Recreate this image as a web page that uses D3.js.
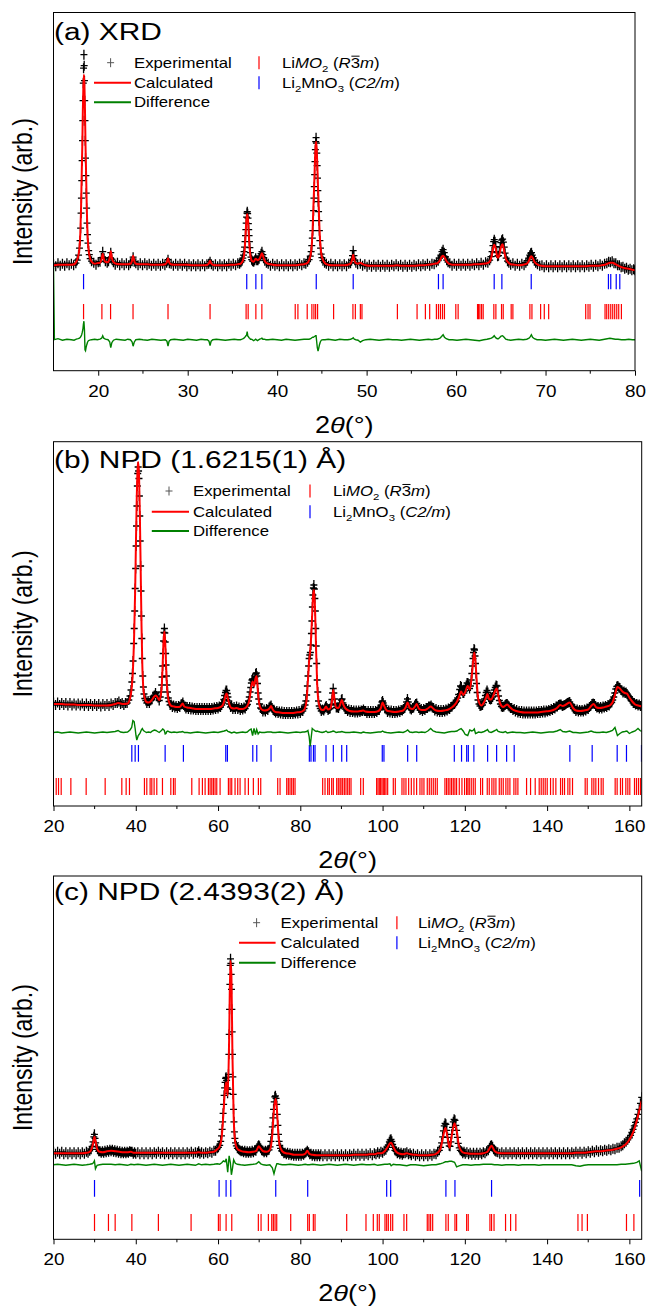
<!DOCTYPE html>
<html>
<head>
<meta charset="utf-8">
<script src="https://cdn.jsdelivr.net/npm/d3@7/dist/d3.min.js"></script>
<style>
html,body{margin:0;padding:0;background:#fff;}
svg{display:block;}
</style>
</head>
<body>
<svg id="figure" width="647" height="1307"></svg>
<script>
// ===================== (a) XRD =====================
// observed points [2theta, intensity]
const xrdObserved = [
[15.0,113],[15.25,109],[15.5,115],[15.75,110],[16.0,114],[16.25,110],[16.5,115],[16.75,111],[17.0,114],[17.25,111],
[17.5,115],[17.65,121],[17.8,131],[17.9,145],[17.97,160],[18.03,185],[18.08,215],[18.12,245],[18.16,280],[18.2,320],
[18.24,360],[18.27,400],[18.3,440],[18.33,475],[18.36,505],[18.4,532],[18.43,510],[18.46,480],[18.49,440],[18.52,400],
[18.55,360],[18.58,325],[18.62,290],[18.66,255],[18.7,225],[18.75,195],[18.8,172],[18.86,155],[18.93,140],[19.0,132],
[19.1,124],[19.25,119],[19.5,116],[19.75,112],[20.0,117],[20.2,118],[20.35,126],[20.5,138],[20.65,125],[20.8,119],
[21.0,116],[21.15,119],[21.28,126],[21.4,136],[21.52,123],[21.7,117],[21.9,112],[22.15,116],[22.4,111],[22.65,115],
[22.9,111],[23.15,115],[23.4,111],[23.6,115],[23.78,119],[23.9,127],[24.02,118],[24.2,115],[24.45,111],[24.7,115],
[24.95,111],[25.2,115],[25.45,111],[25.7,114],[25.95,110],[26.2,114],[26.45,110],[26.7,114],[26.95,110],[27.2,114],
[27.45,111],[27.65,116],[27.8,122],[27.95,115],[28.15,114],[28.4,110],[28.65,114],[28.9,110],[29.15,114],[29.4,110],
[29.65,114],[29.9,109],[30.15,113],[30.4,109],[30.65,113],[30.9,109],[31.15,113],[31.4,109],[31.65,113],[31.9,109],
[32.15,113],[32.35,114],[32.5,118],[32.65,113],[32.85,110],[33.1,113],[33.35,109],[33.6,113],[33.85,109],[34.1,113],
[34.35,109],[34.6,114],[34.85,110],[35.1,114],[35.35,111],[35.6,115],[35.8,114],[35.95,117],[36.07,120],[36.16,125],
[36.24,131],[36.3,138],[36.36,147],[36.41,158],[36.46,170],[36.5,182],[36.54,195],[36.58,207],[36.62,215],[36.66,218],
[36.7,214],[36.74,205],[36.78,194],[36.82,182],[36.86,170],[36.9,158],[36.95,146],[37.0,136],[37.07,127],[37.15,122],
[37.25,119],[37.38,118],[37.5,121],[37.6,125],[37.72,121],[37.85,121],[37.98,124],[38.1,129],[38.2,134],[38.3,138],
[38.4,132],[38.5,126],[38.62,120],[38.8,116],[39.0,114],[39.25,110],[39.5,114],[39.75,110],[40.0,113],[40.25,109],
[40.5,113],[40.75,109],[41.0,113],[41.25,109],[41.5,113],[41.75,109],[42.0,113],[42.25,110],[42.5,114],[42.75,111],
[43.0,115],[43.2,114],[43.4,118],[43.57,122],[43.7,129],[43.8,138],[43.87,150],[43.93,165],[43.98,180],[44.03,200],
[44.07,220],[44.11,245],[44.15,268],[44.19,292],[44.23,318],[44.27,342],[44.31,358],[44.35,366],[44.39,355],[44.43,335],
[44.47,310],[44.51,285],[44.55,260],[44.59,238],[44.63,218],[44.67,200],[44.72,180],[44.78,160],[44.85,145],[44.92,133],
[45.0,126],[45.12,120],[45.3,116],[45.5,114],[45.75,110],[46.0,114],[46.25,109],[46.5,113],[46.75,109],[47.0,113],
[47.25,109],[47.5,113],[47.75,109],[48.0,114],[48.2,115],[48.32,120],[48.42,130],[48.5,140],[48.58,130],[48.68,121],
[48.8,116],[49.0,113],[49.3,114],[49.55,110],[49.8,113],[50.05,108],[50.3,112],[50.55,108],[50.8,112],[51.05,108],
[51.3,112],[51.55,108],[51.8,112],[52.05,108],[52.3,112],[52.55,108],[52.8,112],[53.05,109],[53.3,113],[53.55,109],
[53.8,112],[54.05,108],[54.3,112],[54.55,108],[54.8,112],[55.05,108],[55.3,112],[55.55,109],[55.8,113],[56.05,109],
[56.3,113],[56.55,110],[56.8,114],[57.05,110],[57.3,114],[57.55,113],[57.8,117],[58.0,120],[58.15,125],[58.3,131],
[58.42,138],[58.55,142],[58.68,136],[58.8,128],[58.95,121],[59.1,117],[59.3,115],[59.55,110],[59.8,114],[60.05,110],
[60.3,114],[60.55,110],[60.8,114],[61.05,110],[61.3,114],[61.55,110],[61.8,114],[62.05,111],[62.3,115],[62.55,111],
[62.8,116],[63.05,112],[63.3,117],[63.55,116],[63.75,121],[63.9,128],[64.02,138],[64.12,150],[64.2,158],[64.27,162],
[64.35,158],[64.44,148],[64.54,136],[64.64,129],[64.74,130],[64.84,137],[64.93,147],[65.02,156],[65.1,161],[65.2,163],
[65.29,157],[65.38,147],[65.48,135],[65.6,125],[65.75,119],[65.9,116],[66.1,112],[66.35,115],[66.6,110],[66.85,114],
[67.1,110],[67.35,114],[67.6,111],[67.8,116],[67.98,120],[68.12,125],[68.24,131],[68.34,135],[68.43,136],[68.52,131],
[68.62,126],[68.75,120],[68.9,116],[69.1,113],[69.35,110],[69.6,111],[69.85,107],[70.1,111],[70.35,107],[70.6,111],
[70.85,107],[71.1,111],[71.35,107],[71.6,111],[71.85,107],[72.1,111],[72.35,107],[72.6,111],[72.85,107],[73.1,111],
[73.35,107],[73.6,111],[73.85,107],[74.1,111],[74.35,107],[74.6,111],[74.85,108],[75.1,112],[75.35,108],[75.6,112],
[75.85,109],[76.1,113],[76.35,110],[76.6,114],[76.85,115],[77.05,118],[77.25,117],[77.45,119],[77.65,115],[77.85,115],
[78.05,111],[78.25,111],[78.45,107],[78.65,108],[78.85,104],[79.05,106],[79.25,102],[79.45,104],[79.65,101],[79.85,103],
[80.0,101]];
// calculated profile and difference on their own 2theta grid
const xrdTwoTheta = [
15.0,15.1,15.5,16.0,16.5,17.0,17.3,17.55,17.75,17.9,
18.0,18.08,18.15,18.22,18.28,18.34,18.4,18.46,18.52,18.58,
18.65,18.72,18.8,18.9,19.05,19.25,19.6,19.9,20.2,20.38,
20.5,20.62,20.8,21.1,21.28,21.4,21.52,21.7,22.0,22.5,
23.0,23.3,23.6,23.78,23.9,24.02,24.2,24.6,25.0,25.5,
26.0,26.5,27.0,27.5,27.68,27.8,27.92,28.1,28.5,29.0,
29.5,30.0,30.5,31.0,31.5,31.9,32.2,32.38,32.5,32.62,
32.8,33.2,33.7,34.2,34.7,35.2,35.6,35.9,36.07,36.2,
36.29,36.37,36.45,36.51,36.58,36.65,36.72,36.79,36.85,36.93,
37.01,37.1,37.22,37.38,37.6,37.8,38.05,38.2,38.3,38.4,
38.55,38.75,39.0,39.5,40.0,40.5,41.0,41.5,42.0,42.5,
43.0,43.35,43.57,43.75,43.87,43.97,44.05,44.13,44.21,44.28,
44.35,44.42,44.49,44.57,44.65,44.73,44.83,44.95,45.13,45.35,
45.7,46.1,46.5,47.0,47.5,47.9,48.2,48.38,48.5,48.62,
48.8,49.05,49.3,49.55,49.9,50.4,50.9,51.4,51.9,52.4,
52.9,53.4,53.9,54.4,54.9,55.4,55.9,56.4,56.9,57.3,
57.6,57.9,58.2,58.4,58.55,58.7,58.9,59.2,59.6,60.1,
60.6,61.1,61.6,62.1,62.6,63.1,63.45,63.7,63.95,64.12,
64.26,64.42,64.6,64.72,64.85,65.03,65.2,65.37,65.55,65.8,
66.1,66.5,67.0,67.5,67.9,68.15,68.3,68.42,68.55,68.75,
69.05,69.5,70.0,70.5,71.0,71.5,72.0,72.5,73.0,73.5,
74.0,74.5,75.0,75.5,76.0,76.3,76.6,76.9,77.2,77.5,
77.8,78.1,78.5,78.9,79.3,79.7,80.0];
const xrdCalc = [
110,111,112,112,112,112,113,118,128,145,
175,225,290,350,420,470,492,470,420,350,
290,225,175,145,128,118,114,115,116,124,
134,124,118,117,126,139,126,117,114,113,
113,113,114,120,130,120,114,113,113,113,
112,112,112,113,117,125,117,113,112,112,
112,112,111,111,111,111,112,115,120,115,
112,111,111,111,112,112,113,114,117,122,
130,143,166,187,205,213,205,187,166,143,
130,122,119,118,124,121,124,131,135,131,
122,116,114,112,111,111,111,111,111,112,
113,115,121,132,152,185,227,266,311,344,
358,344,311,266,227,185,152,132,121,115,
112,111,111,111,111,112,114,122,132,122,
115,114,116,113,111,110,110,110,110,110,
110,111,110,110,110,110,111,111,112,113,
114,115,121,128,130,127,120,114,112,112,
112,112,112,113,113,114,115,117,127,143,
152,145,128,126,133,148,153,140,125,117,
113,112,111,112,114,120,127,129,126,118,
113,110,109,109,109,109,109,109,109,109,
109,109,110,110,110,111,112,114,116,116,
113,110,107,105,104,102,101];
const xrdDiff = [
146,0,2,-1,1,0,-1,1,2,3,
5,7,10,15,20,30,37,20,-20,-22,
-15,-10,-5,-2,-1,0,1,0,1,3,
8,3,1,0,-4,-16,-6,-1,1,0,
-1,1,0,-4,-13,-5,0,1,0,-1,
1,0,-1,0,-3,-13,-3,0,1,0,
-1,1,0,-1,1,0,0,-3,-12,-3,
0,1,0,-1,0,1,0,0,1,2,
3,5,6,8,9,16,7,6,4,3,
1,1,0,-2,1,-2,1,2,3,1,
1,0,0,1,0,-1,1,0,-1,0,
1,1,1,2,4,5,5,6,7,8,
8,-4,-16,-23,-17,-10,-4,-1,0,0,
1,0,-1,1,0,0,1,2,4,1,
0,-1,-5,-2,0,1,0,-1,0,1,
0,0,-1,0,1,0,-1,0,1,0,
1,1,3,7,10,5,2,0,0,-1,
0,1,0,-1,-2,0,1,2,3,5,
8,4,2,2,4,7,8,5,1,0,
-1,0,1,0,1,3,6,10,5,2,
0,0,-1,0,1,0,-1,0,1,0,
-1,0,1,0,-1,0,1,2,3,2,
1,1,0,0,1,0,0];
const xrdReflLiMO2 = [18.36,20.41,21.38,23.89,27.80,32.50,36.53,36.76,37.62,38.29,42.02,42.32,43.36,43.88,44.11,44.30,44.52,46.31,48.47,48.74,49.30,49.48,53.44,55.64,56.57,57.05,57.80,58.03,58.25,58.48,58.70,59.97,60.23,62.40,62.51,62.66,62.85,63.03,64.22,64.45,65.08,65.27,66.16,66.35,68.25,68.48,69.45,69.86,70.35,74.49,74.75,74.97,76.65,76.84,77.06,77.29,77.51,77.73,77.96,78.18,78.48];
const xrdReflLi2MnO3 = [18.36,36.60,37.62,38.29,44.37,48.50,58.03,58.55,64.26,65.12,68.40,77.03,77.29,77.90,78.30];
const xrdTickValues = [20,30,40,50,60,70,80];
const xrdMinorTicks = [25,35,45,55,65,75];

// ===================== (b) NPD 1.6215(1) Å =====================
const npd1Observed = [
[20.0,107],[20.5,102],[21.0,107],[21.5,102],[22.0,106],[22.5,102],[23.0,106],[23.5,101],[24.0,106],[24.5,101],
[25.0,105],[25.5,101],[26.0,105],[26.5,101],[27.0,105],[27.5,100],[28.0,105],[28.5,100],[29.0,104],[29.5,100],
[30.0,104],[30.5,100],[31.0,104],[31.5,99],[32.0,104],[32.5,100],[33.0,104],[33.5,100],[34.0,105],[34.5,102],
[35.0,106],[35.5,106],[35.9,109],[36.3,104],[36.7,106],[37.1,102],[37.5,106],[37.9,106],[38.3,112],[38.6,120],
[38.85,132],[39.05,148],[39.2,165],[39.35,190],[39.5,225],[39.62,255],[39.74,290],[39.86,335],[39.97,375],[40.08,420],
[40.18,460],[40.28,500],[40.38,540],[40.48,565],[40.58,578],[40.68,570],[40.78,555],[40.88,520],[40.98,480],[41.08,430],
[41.18,380],[41.28,330],[41.38,280],[41.48,235],[41.58,195],[41.7,160],[41.85,138],[42.0,124],[42.2,115],[42.45,111],
[42.7,106],[43.0,110],[43.3,106],[43.6,111],[43.9,113],[44.2,119],[44.5,121],[44.8,126],[45.1,120],[45.4,117],
[45.7,111],[45.95,118],[46.15,128],[46.3,142],[46.42,158],[46.54,180],[46.65,205],[46.76,230],[46.86,247],[46.96,255],
[47.06,246],[47.16,228],[47.26,205],[47.36,182],[47.46,160],[47.58,142],[47.72,128],[47.9,116],[48.1,109],[48.35,102],
[48.6,103],[48.9,98],[49.2,101],[49.5,97],[49.8,100],[50.1,96],[50.4,100],[50.7,98],[51.0,103],[51.25,104],
[51.45,107],[51.65,102],[51.9,99],[52.2,95],[52.5,98],[52.8,94],[53.1,98],[53.4,93],[53.7,97],[54.0,93],
[54.3,96],[54.6,92],[54.9,96],[55.2,92],[55.5,96],[55.8,92],[56.1,96],[56.4,92],[56.7,96],[57.0,92],
[57.3,96],[57.6,92],[57.9,96],[58.2,92],[58.5,96],[58.8,93],[59.1,97],[59.4,94],[59.7,98],[60.0,95],
[60.3,99],[60.6,98],[60.9,102],[61.15,106],[61.4,113],[61.6,121],[61.8,127],[61.95,131],[62.1,131],[62.25,125],
[62.4,118],[62.6,110],[62.8,104],[63.05,98],[63.3,99],[63.6,94],[63.9,98],[64.2,94],[64.5,99],[64.8,94],
[65.1,97],[65.4,92],[65.7,96],[66.0,93],[66.3,97],[66.6,95],[66.9,100],[67.15,103],[67.4,110],[67.6,118],
[67.8,128],[67.95,137],[68.1,146],[68.25,152],[68.4,154],[68.55,150],[68.7,146],[68.85,150],[69.0,158],[69.15,164],
[69.3,166],[69.45,160],[69.6,145],[69.75,126],[69.9,114],[70.1,104],[70.35,96],[70.6,94],[70.9,89],[71.2,93],
[71.5,89],[71.8,94],[72.1,92],[72.4,97],[72.65,99],[72.9,101],[73.15,96],[73.4,92],[73.7,90],[74.0,87],
[74.3,90],[74.6,86],[74.9,89],[75.2,85],[75.5,89],[75.8,84],[76.1,88],[76.4,84],[76.7,88],[77.0,84],
[77.3,88],[77.6,84],[77.9,88],[78.2,84],[78.5,88],[78.8,85],[79.1,89],[79.4,85],[79.7,90],[80.0,86],
[80.3,91],[80.6,90],[80.9,95],[81.15,102],[81.35,110],[81.55,122],[81.72,140],[81.88,160],[82.02,180],[82.15,195],
[82.3,202],[82.45,207],[82.58,222],[82.7,245],[82.82,270],[82.94,298],[83.06,322],[83.18,336],[83.3,342],[83.42,334],
[83.54,315],[83.65,290],[83.76,255],[83.87,220],[83.98,185],[84.1,152],[84.25,128],[84.42,110],[84.6,100],[84.85,95],
[85.1,90],[85.4,93],[85.7,91],[85.95,95],[86.15,98],[86.3,100],[86.5,96],[86.75,92],[87.0,94],[87.25,95],
[87.5,102],[87.7,113],[87.85,126],[88.0,135],[88.15,126],[88.3,114],[88.5,104],[88.75,97],[89.0,97],[89.3,96],
[89.55,101],[89.8,106],[90.0,112],[90.15,114],[90.35,106],[90.6,99],[90.9,94],[91.2,94],[91.5,90],[91.8,93],
[92.1,88],[92.4,92],[92.7,88],[93.0,91],[93.3,87],[93.6,91],[93.9,87],[94.2,91],[94.5,88],[94.8,91],
[95.1,90],[95.35,93],[95.6,90],[95.9,90],[96.2,86],[96.5,90],[96.8,86],[97.1,90],[97.4,86],[97.7,90],
[98.0,86],[98.3,90],[98.6,88],[98.9,92],[99.2,92],[99.45,97],[99.65,102],[99.85,108],[100.0,110],[100.15,106],
[100.35,101],[100.6,95],[100.9,93],[101.2,88],[101.5,91],[101.8,87],[102.1,91],[102.4,86],[102.7,90],[103.0,86],
[103.3,90],[103.6,87],[103.9,91],[104.2,88],[104.5,92],[104.8,91],[105.1,94],[105.4,96],[105.65,101],[105.85,108],
[106.05,114],[106.25,108],[106.45,100],[106.7,95],[107.0,93],[107.3,96],[107.55,97],[107.8,101],[108.05,104],[108.3,105],
[108.55,100],[108.8,96],[109.1,92],[109.4,94],[109.7,90],[110.0,94],[110.3,92],[110.6,96],[110.9,96],[111.2,99],
[111.5,99],[111.8,101],[112.1,97],[112.4,96],[112.7,91],[113.0,94],[113.3,89],[113.6,92],[113.9,88],[114.2,92],
[114.5,88],[114.8,92],[115.1,89],[115.4,93],[115.7,91],[116.0,95],[116.3,94],[116.6,98],[116.9,99],[117.2,103],
[117.5,104],[117.75,107],[118.0,110],[118.25,116],[118.5,123],[118.75,133],[118.95,140],[119.15,138],[119.35,130],[119.55,126],
[119.75,126],[119.95,130],[120.15,135],[120.35,141],[120.55,146],[120.75,146],[120.95,140],[121.15,135],[121.35,140],[121.55,152],
[121.7,165],[121.85,180],[122.0,195],[122.12,207],[122.24,214],[122.36,212],[122.48,200],[122.6,185],[122.72,165],[122.85,145],
[123.0,127],[123.2,112],[123.45,104],[123.7,100],[124.0,101],[124.3,102],[124.55,107],[124.8,114],[125.0,121],[125.2,127],
[125.4,131],[125.6,127],[125.8,118],[126.0,114],[126.25,113],[126.5,114],[126.75,118],[127.0,125],[127.2,132],[127.4,137],
[127.6,141],[127.8,140],[128.0,131],[128.2,120],[128.4,111],[128.65,104],[128.9,99],[129.2,98],[129.5,99],[129.8,102],
[130.05,104],[130.3,104],[130.55,101],[130.8,99],[131.1,96],[131.4,96],[131.7,92],[132.0,94],[132.3,89],[132.6,92],
[132.9,87],[133.2,90],[133.5,86],[133.8,90],[134.1,85],[134.4,89],[134.7,85],[135.0,89],[135.3,85],[135.6,89],
[135.9,85],[136.2,89],[136.5,85],[136.8,89],[137.1,85],[137.4,89],[137.7,86],[138.0,90],[138.3,86],[138.6,90],
[138.9,87],[139.2,91],[139.5,87],[139.8,91],[140.1,89],[140.4,92],[140.7,90],[141.0,94],[141.3,92],[141.6,96],
[141.9,95],[142.2,99],[142.5,99],[142.8,102],[143.1,103],[143.4,103],[143.7,100],[144.0,101],[144.3,102],[144.6,104],
[144.9,106],[145.2,107],[145.5,108],[145.8,104],[146.1,99],[146.4,95],[146.7,94],[147.0,90],[147.3,93],[147.6,89],
[147.9,92],[148.2,89],[148.5,92],[148.8,89],[149.1,93],[149.4,91],[149.7,95],[150.0,94],[150.3,98],[150.6,100],
[150.9,104],[151.2,105],[151.5,104],[151.8,100],[152.1,97],[152.4,98],[152.7,95],[153.0,98],[153.3,95],[153.6,99],
[153.9,97],[154.2,100],[154.5,98],[154.8,102],[155.1,101],[155.4,105],[155.7,107],[155.95,112],[156.2,118],[156.45,126],
[156.7,134],[156.95,139],[157.2,140],[157.45,137],[157.7,136],[157.95,132],[158.2,131],[158.45,127],[158.7,129],[158.95,126],
[159.2,127],[159.45,124],[159.7,121],[159.95,118],[160.2,115],[160.45,111],[160.7,110],[160.95,106],[161.2,106],[161.5,103],
[161.8,104],[162.1,101],[162.4,103],[162.7,100],[163.0,101]];
const npd1TwoTheta = [
20,21,22,23,24,25,26,27,28,29,
30,31,32,33,34,35,35.7,36.3,37.0,38.0,
38.6,39.0,39.3,39.6,39.85,40.05,40.25,40.45,40.6,40.8,
41.0,41.2,41.4,41.6,41.85,42.2,42.6,43.1,43.6,44.0,
44.5,44.9,45.3,45.7,46.1,46.35,46.55,46.75,46.95,47.15,
47.35,47.55,47.8,48.2,48.7,49.3,50.0,50.6,51.0,51.4,
51.8,52.5,53.3,54.0,55.0,56.0,57.0,58.0,59.0,60.0,
61.0,61.5,61.85,62.1,62.4,62.8,63.3,63.9,64.5,65.2,
66.0,66.6,67.1,67.5,67.8,68.05,68.4,68.75,69.1,69.4,
69.75,70.1,70.6,71.3,72.0,72.5,72.9,73.3,74.0,75.0,
76.0,77.0,78.0,79.0,80.0,80.6,81.0,81.5,81.85,82.15,
82.4,82.65,82.9,83.15,83.35,83.6,83.85,84.1,84.4,84.8,
85.3,85.8,86.25,86.7,87.3,87.7,88.0,88.3,88.7,89.3,
89.7,90.1,90.5,91.0,92.0,93.0,94.0,94.8,95.3,95.8,
97.0,98.0,99.0,99.6,100.0,100.4,101.0,102.0,103.0,104.0,
105.0,105.6,106.1,106.6,107.3,107.9,108.3,108.8,109.5,110.3,
111.0,111.7,112.3,113.0,114.0,115.0,116.0,116.8,117.5,118.1,
118.6,119.1,119.6,120.1,120.7,121.2,121.7,122.0,122.3,122.6,
122.9,123.3,124.0,124.7,125.2,125.5,125.9,126.4,126.9,127.4,
127.75,128.1,128.6,129.3,129.9,130.3,130.9,131.6,132.5,133.5,
134.5,135.5,136.5,137.5,138.5,139.5,140.5,141.5,142.4,143.2,
143.8,144.6,145.5,146.3,147.0,148.0,149.0,150.0,150.7,151.3,
152.0,152.8,153.6,154.4,155.2,155.9,156.5,157.1,157.7,158.3,
158.9,159.4,160.0,160.7,161.4,162.1,162.6,163.0];
const npd1Calc = [
104,104,104,103,103,103,102,102,102,102,
101,101,101,101,102,104,106,105,104,105,
115,135,170,240,330,430,520,575,588,560,
480,370,260,180,135,115,108,107,109,113,
119,121,117,112,122,145,185,230,249,230,
185,145,120,105,100,99,98,98,101,105,
99,97,96,95,94,94,94,94,95,96,
100,110,122,125,115,102,96,95,96,94,
94,96,100,108,122,137,149,140,155,160,
122,101,93,91,92,95,100,93,88,87,
86,86,86,87,88,90,93,110,150,190,
210,240,285,325,332,290,210,145,110,96,
92,93,99,93,95,110,132,114,97,96,
103,112,102,95,90,89,89,90,91,89,
88,88,90,96,107,100,91,89,88,89,
91,97,107,96,94,99,104,95,92,92,
95,99,95,91,90,91,93,97,102,109,
118,129,122,128,140,133,160,188,207,188,
148,112,101,108,118,124,114,113,120,131,
135,122,105,98,101,103,98,93,90,88,
87,87,87,87,88,89,90,92,96,102,
100,103,107,96,91,90,91,93,100,104,
97,96,97,99,101,107,122,138,135,129,
126,125,117,109,103,101,100,99];
const npd1Diff = [
0,1,-1,0,1,0,-1,0,1,0,
-1,0,1,0,1,2,4,1,0,1,
5,10,24,22,8,-6,-15,-10,-6,-4,
-2,2,6,8,4,2,0,1,0,3,
5,4,2,0,3,5,7,6,4,-3,
-2,2,3,1,0,1,0,1,1,2,
0,0,-1,0,1,0,-1,0,1,0,
2,3,4,5,2,1,-1,1,-1,0,
1,0,1,4,6,7,-6,8,-4,6,
-3,1,0,0,1,1,1,0,0,1,
0,-1,0,1,0,1,1,2,4,-8,
-28,-10,8,6,5,3,2,3,2,1,
0,1,3,0,1,2,3,2,0,1,
1,2,1,0,0,1,0,-1,1,0,
-1,0,1,1,3,1,0,-1,0,1,
0,2,5,1,0,1,1,0,1,0,
3,8,3,1,0,-1,1,2,2,3,
6,8,3,-4,-6,5,3,4,7,-2,
-1,1,0,2,4,6,1,0,2,4,
6,2,1,0,2,-1,0,1,0,0,
-1,0,1,0,-1,0,1,1,3,6,
2,1,3,0,0,-1,0,1,3,1,
0,0,1,0,2,4,10,-6,-2,1,
2,3,-2,1,3,8,4,2];
const npd1ReflLiMO2 = [20.66,21.22,21.87,24.22,27.94,32.56,36.61,37.66,38.47,42.11,42.68,43.49,43.90,44.46,45.11,46.49,48.52,49.16,49.57,53.62,55.40,56.20,56.86,57.66,58.07,58.48,58.87,59.28,59.69,60.50,62.52,62.93,63.33,64.14,64.79,65.36,66.57,67.38,68.59,69.81,70.38,74.51,75.08,76.70,77.09,77.50,77.91,78.31,78.72,85.44,86.01,86.66,87.06,87.63,88.03,88.85,89.24,89.65,89.90,90.30,90.71,91.11,91.52,91.92,92.33,94.68,95.32,98.56,98.89,99.21,99.53,99.86,100.18,100.51,100.83,101.24,102.61,103.10,104.72,105.20,105.69,106.34,106.99,107.63,108.28,109.09,109.58,110.06,110.87,111.36,111.84,112.33,112.82,113.30,115.16,115.57,115.97,116.38,116.78,117.19,117.59,118.00,118.65,119.30,119.94,120.43,120.75,121.08,121.56,122.05,122.53,123.83,124.32,125.45,125.94,126.58,127.07,127.56,128.37,128.85,129.34,129.98,130.47,130.96,131.93,132.41,132.90,135.01,135.98,137.11,138.08,138.57,139.06,139.54,140.03,140.84,141.48,142.13,143.27,143.75,144.24,145.05,145.53,146.18,149.26,149.75,150.88,151.37,151.85,152.50,153.15,153.63,156.55,157.03,157.84,158.33,159.14,159.63,160.11,161.25,161.73,162.22,162.70];
const npd1ReflLi2MnO3 = [39.04,39.85,40.65,47.14,51.58,61.88,62.28,68.45,69.42,72.89,82.20,82.60,83.20,83.58,86.25,88.03,90.07,91.28,99.93,100.34,106.10,108.30,117.44,119.20,120.45,120.85,122.20,125.54,127.73,130.16,132.00,145.53,150.96,157.04,159.30,162.95];

// ===================== (c) NPD 2.4393(2) Å =====================
const npd2Observed = [
[20.0,75],[20.5,71],[21.0,75],[21.5,71],[22.0,75],[22.5,70],[23.0,74],[23.5,70],[24.0,74],[24.5,70],
[25.0,74],[25.5,70],[26.0,74],[26.5,70],[27.0,74],[27.5,71],[28.0,75],[28.4,73],[28.8,77],[29.15,80],
[29.4,86],[29.6,95],[29.8,105],[29.95,110],[30.1,102],[30.25,93],[30.45,85],[30.7,80],[31.0,76],[31.3,76],
[31.6,73],[31.9,76],[32.2,73],[32.5,77],[32.8,74],[33.1,78],[33.4,75],[33.7,79],[34.0,76],[34.3,79],
[34.6,75],[34.9,78],[35.2,74],[35.5,77],[35.8,73],[36.1,76],[36.4,72],[36.7,75],[37.0,72],[37.3,75],
[37.6,72],[37.9,75],[38.2,73],[38.5,76],[38.8,75],[39.1,75],[39.4,71],[39.7,74],[40.0,71],[40.5,74],
[41.0,70],[41.5,74],[42.0,70],[42.5,74],[43.0,70],[43.5,74],[44.0,70],[44.5,74],[45.0,71],[45.5,75],
[46.0,71],[46.5,74],[47.0,70],[47.5,74],[48.0,70],[48.5,74],[49.0,70],[49.5,74],[50.0,70],[50.5,74],
[51.0,70],[51.5,74],[52.0,70],[52.5,74],[53.0,71],[53.5,75],[54.0,71],[54.5,74],[55.0,73],[55.3,76],
[55.6,71],[56.0,74],[56.5,71],[57.0,74],[57.5,72],[58.0,75],[58.5,73],[59.0,77],[59.4,77],[59.8,82],
[60.1,84],[60.4,88],[60.65,96],[60.85,107],[61.0,120],[61.12,135],[61.24,152],[61.36,170],[61.48,188],[61.6,203],
[61.72,214],[61.84,222],[61.96,224],[62.08,218],[62.2,203],[62.32,192],[62.44,200],[62.54,230],[62.64,270],[62.72,310],
[62.8,360],[62.88,410],[62.96,448],[63.04,461],[63.12,452],[63.2,430],[63.28,400],[63.36,360],[63.44,315],[63.52,270],
[63.6,225],[63.68,190],[63.77,160],[63.87,135],[63.98,115],[64.1,102],[64.25,93],[64.45,87],[64.7,82],[65.0,80],
[65.3,78],[65.6,76],[65.9,77],[66.2,74],[66.5,77],[66.8,73],[67.1,76],[67.4,73],[67.7,76],[68.0,73],
[68.3,77],[68.6,74],[68.9,78],[69.2,77],[69.45,82],[69.7,86],[69.9,88],[70.1,86],[70.35,82],[70.6,78],
[70.9,77],[71.2,74],[71.5,77],[71.8,74],[72.1,78],[72.4,79],[72.65,85],[72.85,96],[73.05,110],[73.2,125],
[73.35,143],[73.5,160],[73.65,175],[73.8,185],[73.95,187],[74.1,182],[74.25,170],[74.4,150],[74.55,128],[74.7,110],
[74.85,96],[75.0,88],[75.2,82],[75.45,77],[75.7,76],[76.0,72],[76.3,73],[76.6,70],[76.9,73],[77.2,69],
[77.5,72],[77.8,68],[78.1,71],[78.4,67],[78.7,71],[79.0,67],[79.3,71],[79.6,67],[79.9,71],[80.2,67],
[80.5,71],[80.8,69],[81.1,72],[81.4,74],[81.7,77],[82.0,74],[82.3,70],[82.6,71],[82.9,67],[83.2,70],
[83.5,66],[83.8,70],[84.1,66],[84.4,70],[84.7,66],[85.0,70],[85.5,66],[86.0,70],[86.5,66],[87.0,70],
[87.5,66],[88.0,70],[88.5,66],[89.0,70],[89.5,66],[90.0,70],[90.5,66],[91.0,70],[91.5,66],[92.0,70],
[92.5,67],[93.0,71],[93.5,67],[94.0,71],[94.5,67],[95.0,71],[95.5,67],[96.0,71],[96.5,68],[97.0,72],
[97.5,68],[98.0,72],[98.4,70],[98.8,74],[99.2,71],[99.6,75],[100.0,73],[100.4,77],[100.8,79],[101.1,84],
[101.4,89],[101.65,95],[101.85,99],[102.05,100],[102.25,96],[102.45,90],[102.7,84],[103.0,78],[103.3,76],[103.6,72],
[103.9,74],[104.2,70],[104.5,73],[104.8,69],[105.1,72],[105.5,72],[105.9,74],[106.3,70],[106.7,72],[107.0,68],
[107.5,71],[108.0,67],[108.5,70],[109.0,66],[109.5,70],[110.0,66],[110.5,70],[111.0,66],[111.5,70],[112.0,67],
[112.5,71],[113.0,70],[113.4,75],[113.8,78],[114.1,84],[114.35,93],[114.6,105],[114.8,117],[115.0,127],[115.2,132],
[115.4,130],[115.6,118],[115.8,104],[116.0,93],[116.2,87],[116.4,86],[116.6,95],[116.8,110],[117.0,124],[117.2,135],
[117.4,140],[117.6,138],[117.8,128],[118.0,118],[118.2,104],[118.4,92],[118.65,83],[118.9,78],[119.2,76],[119.5,72],
[119.8,75],[120.1,71],[120.5,74],[120.9,70],[121.3,73],[121.7,69],[122.1,73],[122.5,69],[122.9,73],[123.3,69],
[123.7,73],[124.1,70],[124.5,74],[124.9,72],[125.3,76],[125.7,78],[126.0,83],[126.25,87],[126.5,88],[126.75,85],
[127.0,80],[127.3,77],[127.6,75],[128.0,74],[128.5,71],[129.0,74],[129.5,70],[130.0,74],[130.5,70],[131.0,74],
[131.5,70],[132.0,74],[132.5,70],[133.0,74],[133.5,70],[134.0,74],[134.5,70],[135.0,74],[135.5,70],[136.0,74],
[136.5,70],[137.0,74],[137.5,70],[138.0,74],[138.5,70],[139.0,74],[139.5,70],[140.0,74],[140.5,70],[141.0,74],
[141.5,70],[142.0,74],[142.5,70],[143.0,74],[143.5,70],[144.0,74],[144.5,70],[145.0,74],[145.5,70],[146.0,74],
[146.5,71],[147.0,75],[147.5,71],[148.0,75],[148.5,71],[149.0,75],[149.5,72],[150.0,76],[150.5,73],[151.0,77],
[151.5,74],[152.0,78],[152.5,75],[153.0,78],[153.5,76],[154.0,79],[154.5,77],[155.0,80],[155.5,78],[156.0,81],
[156.5,80],[157.0,83],[157.5,83],[158.0,86],[158.4,88],[158.8,92],[159.2,95],[159.6,99],[160.0,103],[160.3,108],
[160.6,114],[160.9,120],[161.2,127],[161.5,134],[161.8,141],[162.1,150],[162.4,160],[162.7,172],[163.0,184]];
const npd2TwoTheta = [
20,21,22,23,24,25,26,27,28,28.8,
29.4,29.7,29.95,30.2,30.6,31.2,32.0,33.0,34.0,35.0,
36.0,37.0,38.0,38.8,39.6,40.5,41.5,42.5,43.5,44.5,
45.5,46.5,47.5,48.5,49.5,50.5,51.5,52.5,53.5,54.5,
55.3,56.0,57.0,58.0,59.0,59.8,60.4,60.9,61.3,61.7,
62.0,62.35,62.7,63.0,63.25,63.5,63.8,64.2,64.7,65.5,
66.5,67.5,68.5,69.3,69.9,70.4,71.0,71.8,72.6,73.2,
73.6,74.0,74.3,74.6,75.0,75.6,76.5,77.5,78.5,79.5,
80.5,81.2,81.7,82.2,83.0,84.0,85.0,86.0,87.0,88.0,
89.0,90.0,91.0,92.0,93.0,94.0,95.0,96.0,97.0,98.0,
98.8,99.7,100.5,101.2,101.8,102.1,102.6,103.3,104.2,105.0,
105.9,106.8,108.0,109.0,110.0,111.0,112.0,113.0,114.0,114.7,
115.3,115.8,116.3,116.8,117.5,118.0,118.6,119.5,120.5,121.5,
122.5,123.5,124.5,125.5,126.5,127.2,128.0,129.0,130.0,131.0,
132,133,134,135,136,137,138,139,140,141,
142,143,144,145,146,147,148,149,150,151,
152,153,154,155,156,157,158,159,160,161,
161.8,162.4,163.0];
const npd2Calc = [
72,72,72,72,72,72,72,72,73,75,
84,95,105,97,81,75,74,76,77,76,
75,74,74,75,73,73,73,73,73,73,
73,73,73,73,73,73,73,73,73,73,
74,73,73,74,75,80,86,105,150,200,
214,187,300,457,430,270,145,93,81,77,
75,74,75,77,86,81,76,75,79,110,
160,181,162,118,87,76,72,71,69,69,
69,71,77,71,69,68,68,68,68,68,
68,68,68,68,69,69,69,69,70,70,
72,72,76,84,92,93,85,75,71,70,
72,70,69,68,68,68,69,71,79,105,
123,103,83,107,132,118,86,74,72,71,
71,71,72,75,87,77,73,72,72,72,
72,72,72,72,72,72,72,72,72,72,
72,72,72,72,72,73,73,73,74,75,
76,76,77,78,79,81,84,89,99,116,
137,157,177];
const npd2Diff = [
0,1,0,-1,0,1,0,-1,0,1,
2,4,8,-8,-1,0,1,1,1,0,
1,0,-1,1,0,1,0,-1,0,1,
0,-1,0,1,0,-1,0,1,0,-1,
2,0,1,0,1,2,1,4,8,6,
12,-15,18,4,-20,-8,10,3,1,0,
-1,0,1,2,6,2,0,-1,0,-6,
-18,-5,2,2,1,0,0,1,0,-1,
0,1,0,0,1,0,-1,0,1,0,
-1,0,1,0,-1,0,1,0,0,1,
-1,0,1,1,2,-2,1,0,0,-1,
-2,0,0,-1,-2,-1,0,0,2,4,
6,6,7,7,5,-4,-2,0,0,-1,
0,0,1,1,1,0,0,-1,0,0,
0,-1,0,0,0,0,-1,0,0,0,
0,0,0,0,0,-2,-3,-1,0,0,
0,0,0,0,0,0,1,1,2,3,
5,8,-13];
const npd2ReflLiMO2 = [29.97,33.36,34.99,39.05,45.50,53.45,60.09,60.50,61.96,63.34,69.80,70.46,72.24,73.06,73.45,73.86,74.27,77.67,81.80,82.20,83.17,83.58,91.28,95.97,97.75,98.72,99.20,100.59,101.00,101.40,101.97,102.46,105.20,105.86,110.87,111.28,111.69,112.18,115.40,115.97,117.60,118.00,120.44,120.83,126.10,126.50,127.10,129.90,131.13,132.40,147.50,148.50,149.80,159.30,161.10];
const npd2ReflLi2MnO3 = [29.97,60.26,61.96,63.10,74.03,81.80,101.00,101.97,115.40,117.60,126.50,162.50];
const npdTickValues = [20,40,60,80,100,120,140,160];
const npdMinorTicks = [30,50,70,90,110,130,150];

// ===================== layout =====================
const FONT = '"Liberation Sans", Arial, Helvetica, sans-serif';
const STRETCH = 1.18;          // glyphs are set slightly wide
const COLORS = {obs: '#000', calc: '#ff0000', diff: '#008000', phaseA: '#ff0000', phaseB: '#0000ff', axis: '#000'};
const MARK = {hw: 3.5, hh: 5, width: 1.3};   // observed-point cross

const panels = [
  {key: 'xrd', title: '(a) XRD', observed: xrdObserved, tt: xrdTwoTheta, calc: xrdCalc, diff: xrdDiff,
   reflA: xrdReflLiMO2, reflB: xrdReflLi2MnO3, ticks: xrdTickValues, minor: xrdMinorTicks,
   xDomain: [15, 80], yDomain: [-100, 616.4], diffOffset: -38,
   box: {l: 53.5, r: 635, t: 12.5, b: 370.7}, titleY: 40,
   rowB: [274, 289.3], rowA: [304, 319.3],
   legend: {crossX: 110.6, lineX: [94, 131], textX: 134, rows: [62.7, 82.7, 102.3], tickX: 259, tickTextX: 282}},
  {key: 'npd1', title: '(b) NPD (1.6215(1) Å)', observed: npd1Observed, tt: npd1TwoTheta, calc: npd1Calc, diff: npd1Diff,
   reflA: npd1ReflLiMO2, reflB: npd1ReflLi2MnO3, ticks: npdTickValues, minor: npdMinorTicks,
   xDomain: [20, 163], yDomain: [-100, 628.6], diffOffset: 47,
   box: {l: 53.5, r: 641.7, t: 441.7, b: 806}, titleY: 468.3,
   rowB: [745, 761.7], rowA: [778, 795],
   legend: {crossX: 169, lineX: [151.8, 189], textX: 193, rows: [491, 511.7, 531], tickX: 310, tickTextX: 333}},
  {key: 'npd2', title: '(c) NPD (2.4393(2) Å)', observed: npd2Observed, tt: npd2TwoTheta, calc: npd2Calc, diff: npd2Diff,
   reflA: npd2ReflLiMO2, reflB: npd2ReflLi2MnO3, ticks: npdTickValues, minor: npdMinorTicks,
   xDomain: [20, 163], yDomain: [-100, 626.6], diffOffset: 49,
   box: {l: 53.5, r: 641.7, t: 876, b: 1239.3}, titleY: 900,
   rowB: [1180, 1196.7], rowA: [1214, 1231],
   legend: {crossX: 256.6, lineX: [239, 275.6], textX: 280.5, rows: [922.7, 942.7, 962.7], tickX: 396.9, tickTextX: 418}}
];

const svg = d3.select('#figure');
svg.append('rect').attr('width', 647).attr('height', 1307).attr('fill', '#fff');

// a text element set inside a horizontally widened group
function wideText(parent, x, y, size, anchor, stretch) {
  const g = parent.append('g').attr('transform', `translate(${x},${y}) scale(${stretch || STRETCH},1)`);
  const t = g.append('text').attr('x', 0).attr('y', 0)
    .attr('font-family', FONT).attr('font-size', size).attr('fill', '#000')
    .attr('text-anchor', anchor || 'start');
  return {g, t};
}

function crossPath(cx, cy, hw, hh) {
  return `M${cx - hw},${cy}h${2 * hw}M${cx},${cy - hh}v${2 * hh}`;
}

function drawPanel(p) {
  const x = d3.scaleLinear().domain(p.xDomain).range([p.box.l, p.box.r]);
  const y = d3.scaleLinear().domain(p.yDomain).range([p.box.b, p.box.t]);
  const rows = p.tt.map((t, i) => ({t, c: p.calc[i], d: p.diff[i]}));

  const clipId = 'clip-' + p.key;
  svg.append('clipPath').attr('id', clipId).append('rect')
    .attr('x', p.box.l).attr('y', p.box.t)
    .attr('width', p.box.r - p.box.l).attr('height', p.box.b - p.box.t);
  const plot = svg.append('g').attr('clip-path', `url(#${clipId})`);

  // Bragg reflection markers
  plot.append('g').selectAll('line').data(p.reflB).join('line')
    .attr('x1', d => x(d)).attr('x2', d => x(d))
    .attr('y1', p.rowB[0]).attr('y2', p.rowB[1])
    .attr('stroke', COLORS.phaseB).attr('stroke-width', 1.2);
  plot.append('g').selectAll('line').data(p.reflA).join('line')
    .attr('x1', d => x(d)).attr('x2', d => x(d))
    .attr('y1', p.rowA[0]).attr('y2', p.rowA[1])
    .attr('stroke', COLORS.phaseA).attr('stroke-width', 1.2);

  // difference curve, shifted below the pattern
  plot.append('path').datum(rows)
    .attr('d', d3.line().x(d => x(d.t)).y(d => y(d.d + p.diffOffset)))
    .attr('fill', 'none').attr('stroke', COLORS.diff).attr('stroke-width', 1.4);

  // observed points as crosses
  plot.append('path')
    .attr('d', p.observed.map(([t, o]) => crossPath(x(t), y(o), MARK.hw, MARK.hh)).join(''))
    .attr('fill', 'none').attr('stroke', COLORS.obs).attr('stroke-width', MARK.width);

  // calculated profile
  plot.append('path').datum(rows)
    .attr('d', d3.line().curve(d3.curveMonotoneX).x(d => x(d.t)).y(d => y(d.c)))
    .attr('fill', 'none').attr('stroke', COLORS.calc).attr('stroke-width', 2);

  // frame
  svg.append('rect')
    .attr('x', p.box.l).attr('y', p.box.t)
    .attr('width', p.box.r - p.box.l).attr('height', p.box.b - p.box.t)
    .attr('fill', 'none').attr('stroke', COLORS.axis).attr('stroke-width', 1);

  // bottom axis
  const ax = svg.append('g').attr('transform', `translate(0,${p.box.b})`)
    .call(d3.axisBottom(x).tickValues(p.ticks).tickSize(5).tickSizeOuter(0).tickFormat(d3.format('d')));
  ax.select('.domain').remove();
  ax.selectAll('line').attr('stroke', COLORS.axis);
  ax.selectAll('text')
    .attr('font-family', FONT).attr('font-size', 16).attr('fill', '#000')
    .attr('y', 26).attr('dy', null)
    .attr('transform', `scale(${STRETCH},1)`);
  ax.append('g').selectAll('line').data(p.minor).join('line')
    .attr('x1', d => x(d)).attr('x2', d => x(d))
    .attr('y1', 0).attr('y2', 3).attr('stroke', COLORS.axis);

  // axis titles
  const cx = (p.box.l + p.box.r) / 2;
  const xl = wideText(svg, cx, p.box.b + 62, 23, 'middle');
  xl.t.append('tspan').text('2');
  xl.t.append('tspan').attr('font-style', 'italic').text('θ');
  xl.t.append('tspan').text('(°)');

  const cy = (p.box.t + p.box.b) / 2;
  svg.append('g').attr('transform', `translate(22,${cy}) scale(${STRETCH},1) rotate(-90)`)
    .append('text').attr('font-family', FONT).attr('font-size', 23)
    .attr('text-anchor', 'middle').attr('dominant-baseline', 'central')
    .text('Intensity (arb.)');

  // panel title
  wideText(svg, p.box.l + 0.5, p.titleY, 24.5, 'start', 1.22).t.text(p.title);

  // legend
  const L = p.legend, fs = 14.2, base = fs * 0.36;
  svg.append('path').attr('d', crossPath(L.crossX, L.rows[0], 3.5, 4.5))
    .attr('stroke', '#555').attr('stroke-width', 1).attr('fill', 'none');
  svg.append('line').attr('x1', L.lineX[0]).attr('x2', L.lineX[1])
    .attr('y1', L.rows[1]).attr('y2', L.rows[1]).attr('stroke', COLORS.calc).attr('stroke-width', 2);
  svg.append('line').attr('x1', L.lineX[0]).attr('x2', L.lineX[1])
    .attr('y1', L.rows[2]).attr('y2', L.rows[2]).attr('stroke', COLORS.diff).attr('stroke-width', 2);
  ['Experimental', 'Calculated', 'Difference'].forEach((s, i) => {
    wideText(svg, L.textX, L.rows[i] + base, fs).t.text(s);
  });

  svg.append('line').attr('x1', L.tickX).attr('x2', L.tickX)
    .attr('y1', L.rows[0] - 6.5).attr('y2', L.rows[0] + 6.5)
    .attr('stroke', COLORS.phaseA).attr('stroke-width', 1.2);
  svg.append('line').attr('x1', L.tickX).attr('x2', L.tickX)
    .attr('y1', L.rows[1] - 6.5).attr('y2', L.rows[1] + 6.5)
    .attr('stroke', COLORS.phaseB).attr('stroke-width', 1.2);

  // LiMO2 (R-3m)
  const a = wideText(svg, L.tickTextX, L.rows[0] + base, fs);
  a.t.append('tspan').text('Li');
  a.t.append('tspan').attr('font-style', 'italic').text('MO');
  a.t.append('tspan').attr('font-size', fs * 0.68).attr('dy', 4).text('2');
  a.t.append('tspan').attr('dy', -4).text(' (');
  a.t.append('tspan').attr('font-style', 'italic').text('R');
  a.t.append('tspan').text('3');
  a.t.append('tspan').attr('font-style', 'italic').text('m');
  a.t.append('tspan').text(')');
  const node = a.t.node();
  const idx = node.textContent.indexOf('3');
  const ext = node.getExtentOfChar(idx);
  a.g.append('line').attr('x1', ext.x + 0.6).attr('x2', ext.x + ext.width - 0.4)
    .attr('y1', -fs * 0.82).attr('y2', -fs * 0.82).attr('stroke', '#000').attr('stroke-width', 1);

  // Li2MnO3 (C2/m)
  const b = wideText(svg, L.tickTextX, L.rows[1] + base, fs);
  b.t.append('tspan').text('Li');
  b.t.append('tspan').attr('font-size', fs * 0.68).attr('dy', 4).text('2');
  b.t.append('tspan').attr('dy', -4).text('MnO');
  b.t.append('tspan').attr('font-size', fs * 0.68).attr('dy', 4).text('3');
  b.t.append('tspan').attr('dy', -4).text(' (');
  b.t.append('tspan').attr('font-style', 'italic').text('C2/m');
  b.t.append('tspan').text(')');
}

panels.forEach(drawPanel);
</script>
</body>
</html>
